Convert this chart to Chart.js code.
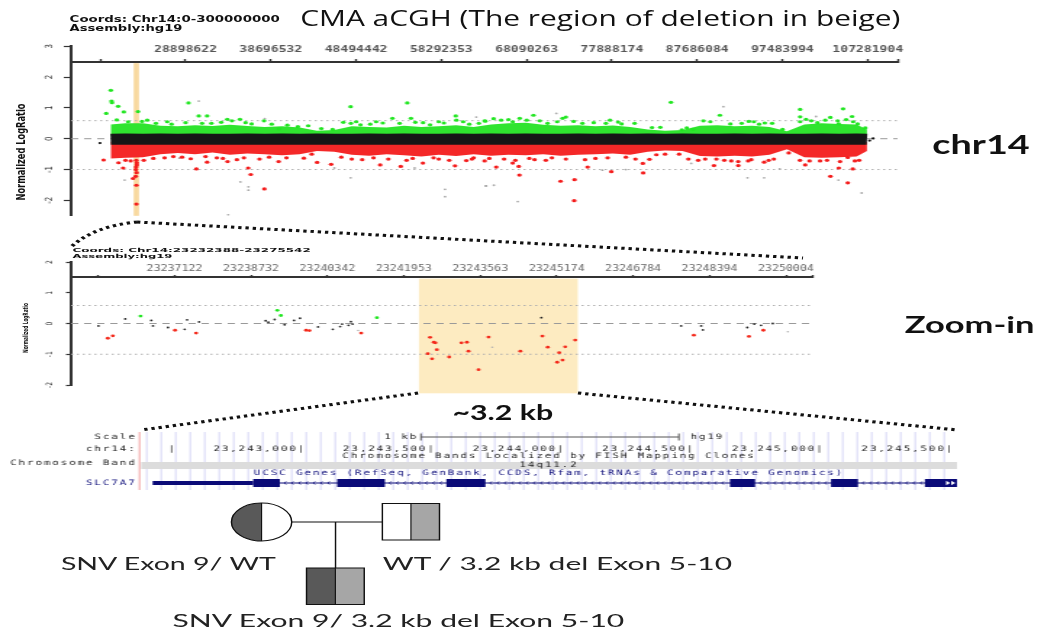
<!DOCTYPE html>
<html lang="en">
<head>
<meta charset="utf-8">
<title>CMA aCGH chr14</title>
<script src="https://cdn.jsdelivr.net/npm/chart.js@4.4.1/dist/chart.umd.min.js"></script>
<style>
html, body { margin: 0; padding: 0; background: #fff; }
body { width: 1046px; height: 637px; overflow: hidden; position: relative; }
#fig { position: absolute; left: 0; top: 0; width: 722px; height: 637px; transform: scaleX(1.45); transform-origin: 0 0; }
#fig canvas { position: absolute; }
.t { position: absolute; white-space: nowrap; transform-origin: 0 50%; }
</style>
</head>
<body>
<div id="fig">
	<canvas id="graficoTopo" width="625" height="190" style="left:0;top:36px"></canvas>
	<canvas id="graficoZoom" width="566" height="160" style="left:0;top:240px"></canvas>
	<canvas id="graficoUcsc" width="665" height="62" style="left:0;top:430px"></canvas>
	<svg width="722" height="637" style="position:absolute;left:0;top:0">
		<g stroke="#111" stroke-width="3" stroke-dasharray="2.3 2.7" fill="none">
			<path d="M49.7,246 Q65.5,226 94.5,222"/>
			<path d="M94.5,222 L553.8,258"/>
			<path d="M288.3,393 L97.2,430"/>
			<path d="M398.6,393 L660.7,430"/>
		</g>
		<!-- heredograma -->
		<g stroke="#111" stroke-width="1" fill="none">
			<line x1="201.2" y1="522" x2="263.7" y2="522"/>
			<line x1="231.4" y1="522" x2="231.4" y2="568"/>
		</g>
		<path d="M180.4,503 A20.8,19 0 0,0 180.4,541 Z" fill="#595959"/>
		<ellipse cx="180.4" cy="522" rx="20.8" ry="19" fill="none" stroke="#111" stroke-width="1"/>
		<line x1="180.4" y1="503" x2="180.4" y2="541" stroke="#111" stroke-width="0.8"/>
		<rect x="283.4" y="503.5" width="19.7" height="36.5" fill="#a6a6a6"/>
		<rect x="263.7" y="503.5" width="39.4" height="36.5" fill="none" stroke="#111" stroke-width="1"/>
		<line x1="283.4" y1="503.5" x2="283.4" y2="540" stroke="#111" stroke-width="0.8"/>
		<rect x="211.4" y="568" width="19.9" height="36.5" fill="#595959"/>
		<rect x="231.3" y="568" width="19.9" height="36.5" fill="#a6a6a6"/>
		<rect x="211.4" y="568" width="39.8" height="36.5" fill="none" stroke="#111" stroke-width="1"/>
		<line x1="231.3" y1="568" x2="231.3" y2="604.5" stroke="#111" stroke-width="0.8"/>
	</svg>
</div>
<script>
/* ---- Dados ---- */

/* painel chr14 (posições em Mb, log2 normalizado) */
var bandaMb = [20.3, 22, 24, 26, 28, 30, 32, 34, 36, 38, 40, 42, 44, 46, 48, 50, 52, 54, 56, 58, 60, 62, 64, 66, 68, 70, 72, 74, 76, 78, 80, 82, 84, 86, 88, 90, 92, 94, 96, 98, 100, 102, 104, 106, 107.2];
var verdeBorda = [0.46, 0.50, 0.50, 0.42, 0.40, 0.44, 0.41, 0.45, 0.41, 0.38, 0.40, 0.36, 0.26, 0.28, 0.40, 0.38, 0.36, 0.42, 0.38, 0.40, 0.44, 0.38, 0.46, 0.50, 0.52, 0.45, 0.42, 0.44, 0.40, 0.43, 0.38, 0.30, 0.26, 0.28, 0.42, 0.44, 0.40, 0.42, 0.38, 0.24, 0.46, 0.50, 0.48, 0.46, 0.30];
var vermelhoBorda = [-0.64, -0.62, -0.60, -0.50, -0.46, -0.50, -0.45, -0.52, -0.48, -0.50, -0.54, -0.50, -0.40, -0.42, -0.52, -0.55, -0.50, -0.54, -0.58, -0.52, -0.56, -0.50, -0.55, -0.52, -0.54, -0.50, -0.55, -0.52, -0.50, -0.48, -0.52, -0.42, -0.38, -0.40, -0.56, -0.58, -0.55, -0.58, -0.52, -0.34, -0.60, -0.62, -0.60, -0.58, -0.40];
var pretoMeio = [-0.02, -0.01, -0.02, -0.01, -0.02, -0.01, -0.02, -0.02, -0.01, -0.02, -0.01, -0.02, -0.01, -0.02, -0.02, -0.01, -0.02, -0.01, -0.02, -0.02, -0.01, -0.02, -0.01, -0.02, -0.01, -0.02, -0.02, -0.01, -0.02, -0.01, -0.02, -0.01, -0.02, -0.01, -0.02, -0.02, -0.01, -0.02, -0.01, -0.02, -0.02, -0.01, -0.02, -0.01, -0.02];

var pontosVerdes = [[20.32,1.57],[20.4,1.22],[20.45,1.17],[21.16,1.05],[21.81,0.87],[19.79,0.82],[21.0,0.61],[23.44,0.88],[23.9,0.56],[29.24,1.16],[30.42,0.74],[31.38,0.74],[31.87,0.5],[33.7,0.63],[34.23,0.58],[35.15,0.63],[37.92,0.58],[47.87,1.04],[54.38,1.16],[52.67,0.66],[54.8,0.66],[47.03,0.53],[47.9,0.5],[50.12,0.47],[51.56,0.51],[59.95,0.74],[60.02,0.6],[58.58,0.51],[63.34,0.57],[41.8,0.39],[39.64,0.32],[55.3,0.53],[84.67,1.18],[68.87,0.76],[68.1,0.6],[72.22,0.66],[72.6,0.7],[77.67,0.6],[63.27,0.58],[65.16,0.6],[85.92,0.29],[83.45,0.37],[90.3,0.76],[99.52,0.95],[104.45,0.97],[99.52,0.71],[100.2,0.63],[102.99,0.69],[105.48,0.72],[99.52,0.55],[103.83,0.58],[88.4,0.58],[93.62,0.56],[95.45,0.51],[103.95,0.48],[106.12,0.48],[25.5,0.5],[27.3,0.47],[36.5,0.48],[44.5,0.33],[45.8,0.3],[49,0.45],[57,0.45],[61.5,0.47],[66.5,0.55],[70.5,0.5],[74.5,0.5],[79,0.48],[82.5,0.36],[87.2,0.3],[91.5,0.48],[94.8,0.47],[97.5,0.3],[101.5,0.52],[107,0.35],
	[22.3,0.55],[24.5,0.6],[26.8,0.55],[28.9,0.52],[30.8,0.5],[33,0.53],[35.8,0.52],[38.8,0.47],[40.6,0.44],[43,0.42],[48.5,0.55],[50.8,0.55],[53.5,0.5],[56.2,0.52],[58,0.55],[60.8,0.55],[62.6,0.5],[64.3,0.65],[66,0.62],[67.3,0.66],[69.6,0.58],[71.6,0.55],[73.5,0.56],[75.8,0.52],[77.2,0.5],[78.6,0.54],[80.5,0.5],[86.5,0.35],[89.2,0.55],[92.8,0.5],[94.2,0.55],[96.3,0.5],[100.8,0.58],[102.4,0.6],[104.8,0.62],[105.6,0.55]];
var pontosVermelhos = [[19.49,-0.69],[21.73,-0.95],[22.87,-1.29],[23.18,-1.22],[23.26,-1.51],[23.26,-2.12],[23.3,-0.85],[23.2,-1.0],[23.25,-0.7],[23.3,-0.78],[23.22,-0.92],[23.28,-1.1],[22.6,-0.72],[24.1,-0.7],[21.2,-0.78],[30.15,-0.98],[31.38,-0.76],[36.4,-1.16],[36.1,-0.95],[37.96,-1.63],[33.73,-0.74],[53.63,-0.9],[51.26,-0.85],[59.87,-0.88],[56.18,-0.79],[44.02,-0.77],[45.62,-0.83],[42.5,-0.63],[39.6,-0.74],[61.16,-0.71],[63.27,-0.72],[73.56,-2.01],[73.6,-1.33],[71.99,-1.38],[67.27,-1.18],[64.6,-0.92],[77.82,-1.07],[81.48,-1.11],[75.1,-0.92],[81.44,-0.8],[86.68,-0.66],[82.2,-0.67],[67.19,-0.9],[66.5,-0.79],[104.99,-1.43],[103.0,-1.22],[103.96,-0.95],[105.56,-0.98],[100.1,-0.85],[89.62,-0.87],[92.41,-0.87],[95.38,-0.76],[93.55,-0.72],[104.99,-0.61],[92.4,-0.74],[26.5,-0.62],[28.5,-0.6],[32.5,-0.62],[34.8,-0.68],[38.5,-0.6],[48,-0.66],[50.5,-0.62],[55,-0.64],[58,-0.66],[62,-0.62],[65.5,-0.66],[69,-0.68],[71,-0.62],[76,-0.64],[79.5,-0.6],[84,-0.5],[88.6,-0.66],[90.8,-0.7],[96.5,-0.66],[99.5,-0.7],[101.8,-0.72],[106.3,-0.7],
	[22.0,-0.7],[25.2,-0.64],[27.5,-0.58],[29.5,-0.65],[31.2,-0.58],[33.2,-0.64],[35.6,-0.62],[37.4,-0.66],[40.5,-0.62],[43.4,-0.5],[46.8,-0.6],[49.2,-0.68],[52.2,-0.66],[54.3,-0.7],[57.4,-0.62],[59.2,-0.7],[61.8,-0.66],[63.8,-0.64],[66.8,-0.7],[68.4,-0.64],[70.3,-0.7],[72.6,-0.66],[74.8,-0.68],[77.4,-0.62],[80.6,-0.66],[83,-0.52],[85.6,-0.5],[87.8,-0.7],[89.9,-0.66],[91.6,-0.72],[93.9,-0.68],[95.9,-0.7],[98.2,-0.46],[100.6,-0.72],[102.6,-0.7],[104.1,-0.74],[105.8,-0.72]];
var pontosCinza = [[30.42,1.22],[21.9,-1.34],[36.13,-1.56],[36.13,-1.67],[35.2,-1.4],[33.8,-2.47],[28.2,-0.63],[47.87,-1.27],[58.72,-1.64],[58.72,-1.88],[63.38,-1.53],[55.22,-0.95],[63.45,-1.53],[64.33,-1.51],[67.07,-2.04],[76.8,-1.02],[87.0,-0.8],[90.7,1.04],[106.59,-1.76],[93.47,-1.27],[95.38,-1.27],[103.92,-1.34],[97.17,-0.98],[101.34,0.72],[38.0,0.65],[46.0,-0.95],[62.3,0.7],[79.5,-1.0],[71.5,0.82]];
var pontosPretos = [[19.07,-0.14],[107.5,-0.06],[107.9,0.01]];

var ticksTopo = [19100712, 28898622, 38696532, 48494442, 58292353, 68090263, 77888174, 87686084, 97483994, 107281904, 110710000];
var rotulosTopo = ['', '28898622', '38696532', '48494442', '58292353', '68090263', '77888174', '87686084', '97483994', '107281904', ''];
var ticksLog = [-2, -1, 0, 1, 2, 3];
var ticksLogZoom = [-2, -1, 0, 1, 2];
var limiares = [0.585, -1];
var delecaoTopoMb = [22.95, 23.55];

/* painel zoom-in (pb, log2) */
var zoomPretos = [[23235518,-0.08],[23236083,0.15],[23236632,0.10],[23236668,-0.08],[23236985,-0.13],[23237336,-0.19],[23237386,0.12],[23237640,0.05],[23239041,0.09],[23239098,0.04],[23239231,0.13],[23239442,-0.04],[23239639,0.10],[23239766,0.17],[23240146,-0.11],[23240456,-0.19],[23240611,-0.10],[23240653,-0.02],[23240788,-0.06],[23240837,0.06],[23240873,-0.02],[23244851,0.19],[23247795,-0.08],[23248217,-0.08],[23248253,-0.21],[23249189,-0.13],[23249337,-0.02],[23249479,-0.06],[23249726,0.0]];
var zoomVerdes = [[23236406,0.24],[23239288,0.43],[23239364,0.26],[23241386,0.19]];
var zoomVermelhos = [[23235717,-0.48],[23235823,-0.40],[23237133,-0.22],[23237576,-0.31],[23239892,-0.22],[23239964,-0.23],[23241054,-0.31],[23242457,-0.98],[23242506,-0.45],[23242548,-1.15],[23242584,-0.61],[23242618,-0.63],[23242648,-0.85],[23242908,-1.09],[23243167,-0.63],[23243281,-0.61],[23243315,-0.90],[23243527,-1.50],[23243738,-0.44],[23243958,-2.11],[23244408,-0.90],[23244873,-0.41],[23244985,-0.77],[23245183,-1.26],[23245226,-0.95],[23245296,-1.19],[23245353,-0.76],[23245564,-0.54],[23248063,-0.38],[23249225,-0.42],[23249527,-0.22]];
var zoomCinza = [[23240991,-0.23],[23243816,-0.77],[23250043,-0.27]];
var ticksZoom = [23235512, 23237122, 23238732, 23240342, 23241953, 23243563, 23245174, 23246784, 23248394, 23250004, 23250574];
var rotulosZoom = ['', '23237122', '23238732', '23240342', '23241953', '23243563', '23245174', '23246784', '23248394', '23250004', ''];
var delecaoZoom = [23242270, 23245618];

/* trilha UCSC (pb) */
var janelaUcsc = [23242383, 23245531];
var marcasCoord = [23242500, 23243000, 23243500, 23244000, 23244500, 23245000, 23245500];
var escala1kb = [23243463, 23244458];
var utr3 = [23242428, 23242816];
var exonInicio = [23242816, 23243140, 23243561, 23244655, 23245045, 23245407];
var exonFim = [23242919, 23243324, 23243712, 23244752, 23245149, 23245531];

/* ---- Layout ---- */
Chart.defaults.font.family = '"DejaVu Sans", sans-serif';
Chart.defaults.animation = false;

var Figura = Figura || {};

Figura.util = {
	pares: function(lista, k) {
		return lista.map(function(p) { return {x: p[0] * k, y: p[1]}; });
	},
	serie: function(xs, ys, k) {
		return xs.map(function(v, i) { return {x: v * k, y: ys[i]}; });
	},
	reta: function(v, a, b) {
		return [{x: a, y: v}, {x: b, y: v}];
	}
};

/* faixa bege da deleção, desenhada pelas escalas */
Figura.faixaBege = {
	id: 'faixaBege',
	beforeDatasetsDraw: function(chart, args, o) {
		var sx = chart.scales.x, sy = chart.scales.y, ctx = chart.ctx;
		var x0 = sx.getPixelForValue(o.inicio), x1 = sx.getPixelForValue(o.fim);
		var y0 = sy.getPixelForValue(o.topo), y1 = sy.getPixelForValue(o.base);
		ctx.save();
		ctx.fillStyle = o.cor;
		ctx.fillRect(x0, y0, x1 - x0, y1 - y0);
		ctx.restore();
	}
};

Figura.eixos = function(xmin, xmax, ymin, ymax, posY, ticksX, rotulosX, ticksY, tam) {
	return {
		x: {
			type: 'linear', position: {y: posY}, min: xmin, max: xmax,
			afterBuildTicks: function(s) { s.ticks = ticksX.map(function(v) { return {value: v}; }); },
			ticks: {
				autoSkip: false, maxRotation: 0, minRotation: 0, padding: tam.pad,
				font: {family: '"DejaVu Sans Mono", monospace', size: tam.fx, weight: tam.peso},
				color: tam.corX,
				callback: function(v, i) { return rotulosX[i]; }
			},
			grid: {drawOnChartArea: false, tickLength: tam.tlx, tickColor: '#333', tickWidth: 1.4},
			border: {color: '#333', width: 2}
		},
		y: {
			min: ymin, max: ymax,
			afterBuildTicks: function(s) { s.ticks = ticksY.map(function(v) { return {value: v}; }); },
			afterFit: function(s) { s.width = 49; },
			ticks: {minRotation: 90, maxRotation: 90, crossAlign: 'center', padding: tam.pady, font: {size: tam.fy}, color: '#333'},
			grid: {drawOnChartArea: false, tickLength: tam.tly, tickColor: '#333', tickWidth: 1.2},
			border: {color: '#333', width: 2}
		}
	};
};

Figura.linhasRef = function(a, b) {
	return [
		{type: 'line', data: Figura.util.reta(0, a, b), borderColor: '#9a9a9a', borderWidth: 1, borderDash: [5, 4], pointRadius: 0, order: 30},
		{type: 'line', data: Figura.util.reta(limiares[0], a, b), borderColor: '#b0b0b0', borderWidth: 1, borderDash: [1.5, 2.5], pointRadius: 0, order: 30},
		{type: 'line', data: Figura.util.reta(limiares[1], a, b), borderColor: '#b0b0b0', borderWidth: 1, borderDash: [1.5, 2.5], pointRadius: 0, order: 30}
	];
};

Figura.opcoesBase = function(padding, eixos, bege) {
	return {
		responsive: false, animation: false,
		layout: {padding: padding},
		plugins: {legend: {display: false}, tooltip: {enabled: false}, faixaBege: bege},
		scales: eixos
	};
};

/* grafico do cromossomo inteiro */
Figura.graficoTopo = function() {
	var u = Figura.util, xmin = 15750000, xmax = 110710000;
	var ds = Figura.linhasRef(xmin, xmax).concat([
		{type: 'line', data: u.serie(bandaMb, verdeBorda, 1e6), fill: {value: 0.1}, backgroundColor: '#2fe42f', borderWidth: 0, pointRadius: 0, order: 12},
		{type: 'line', data: u.serie(bandaMb, vermelhoBorda, 1e6), fill: {value: -0.1}, backgroundColor: '#f42828', borderWidth: 0, pointRadius: 0, order: 12},
		{type: 'line', data: u.serie(bandaMb, pretoMeio, 1e6), borderColor: '#161616', borderWidth: 11, pointRadius: 0, fill: false, order: 8},
		{data: u.pares(pontosCinza, 1e6), pointRadius: 0.9, backgroundColor: '#a8a8a8', borderWidth: 0, order: 6},
		{data: u.pares(pontosVerdes, 1e6), pointRadius: 1.6, backgroundColor: '#22e622', borderWidth: 0, order: 4},
		{data: u.pares(pontosVermelhos, 1e6), pointRadius: 1.6, backgroundColor: '#f41c1c', borderWidth: 0, order: 3},
		{data: u.pares(pontosPretos, 1e6), pointRadius: 1.1, backgroundColor: '#111', borderWidth: 0, order: 2}
	]);
	var eixos = Figura.eixos(xmin, xmax, -2.5, 3, 2.5, ticksTopo, rotulosTopo, ticksLog,
		{pad: -13, fx: 9, peso: 'bold', corX: '#555', tlx: -4, tly: 5, pady: 6, fy: 7});
	return new Chart(document.getElementById('graficoTopo'), {
		type: 'scatter',
		data: {datasets: ds},
		options: Figura.opcoesBase({left: 0, right: 6, top: 10, bottom: 7}, eixos,
			{inicio: delecaoTopoMb[0] * 1e6, fim: delecaoTopoMb[1] * 1e6, topo: 2.45, base: -2.5, cor: '#f8d9a0'}),
		plugins: [Figura.faixaBege]
	});
};

/* grafico zoom-in */
Figura.graficoZoom = function() {
	var u = Figura.util, xmin = 23234942, xmax = 23250574;
	var ds = Figura.linhasRef(xmin, xmax).concat([
		{data: u.pares(zoomCinza, 1), pointRadius: 0.8, backgroundColor: '#b0b0b0', borderWidth: 0, order: 6},
		{data: u.pares(zoomPretos, 1), pointRadius: 0.9, backgroundColor: '#222', borderWidth: 0, order: 5},
		{data: u.pares(zoomVerdes, 1), pointRadius: 1.4, backgroundColor: '#22e622', borderWidth: 0, order: 4},
		{data: u.pares(zoomVermelhos, 1), pointRadius: 1.4, backgroundColor: '#f42a1c', borderWidth: 0, order: 3}
	]);
	var eixos = Figura.eixos(xmin, xmax, -2, 2, 1.5, ticksZoom, rotulosZoom, ticksLogZoom,
		{pad: -10, fx: 8, peso: 'normal', corX: '#666', tlx: -3, tly: 3.5, pady: 8, fy: 6});
	return new Chart(document.getElementById('graficoZoom'), {
		type: 'scatter',
		data: {datasets: ds},
		options: Figura.opcoesBase({left: 0, right: 5.3, top: 22, bottom: 15}, eixos,
			{inicio: delecaoZoom[0], fim: delecaoZoom[1], topo: 1.46, base: -2.27, cor: '#fdebc1'}),
		plugins: [Figura.faixaBege]
	});
};

/* trilha do navegador UCSC */
Figura.linhas = {escala: 7, coord: 19, fish: 26, bandaTxt: 33, banda: 35.5, genesTxt: 43, gene: 53};
Figura.azul = '#0a0a78';

Figura.trilhaUcsc = {
	id: 'trilhaUcsc',
	beforeDatasetsDraw: function(chart) {
		var ctx = chart.ctx, a = chart.chartArea, sy = chart.scales.y;
		ctx.save();
		ctx.strokeStyle = '#cdcdf4';
		ctx.lineWidth = 0.8;
		for (var gx = a.left + 4; gx < a.right; gx += 10) {
			ctx.beginPath();
			ctx.moveTo(gx, sy.getPixelForValue(2));
			ctx.lineTo(gx, sy.getPixelForValue(60));
			ctx.stroke();
		}
		ctx.strokeStyle = '#f2a0a0';
		ctx.lineWidth = 1;
		ctx.beginPath();
		ctx.moveTo(a.left - 1, sy.getPixelForValue(2));
		ctx.lineTo(a.left - 1, sy.getPixelForValue(60));
		ctx.stroke();
		ctx.restore();
	},
	afterDatasetsDraw: function(chart) {
		var ctx = chart.ctx, a = chart.chartArea, sx = chart.scales.x, sy = chart.scales.y, L = Figura.linhas;
		var meio = (a.left + a.right) / 2;
		function py(v) { return sy.getPixelForValue(v); }
		ctx.save();
		ctx.font = '7.5px "DejaVu Sans Mono", monospace';
		ctx.letterSpacing = '1.3px';
		ctx.textBaseline = 'middle';
		ctx.fillStyle = '#222';
		ctx.textAlign = 'right';
		ctx.fillText('Scale', a.left - 3, py(L.escala));
		ctx.fillText('chr14:', a.left - 3, py(L.coord));
		ctx.fillText('Chromosome Band', a.left - 3, py(L.bandaTxt));
		ctx.fillStyle = Figura.azul;
		ctx.fillText('SLC7A7', a.left - 3, py(L.gene));

		/* barra de escala */
		var e0 = sx.getPixelForValue(escala1kb[0]), e1 = sx.getPixelForValue(escala1kb[1]);
		ctx.strokeStyle = '#555';
		ctx.lineWidth = 1;
		ctx.beginPath();
		ctx.moveTo(e0, py(L.escala)); ctx.lineTo(e1, py(L.escala));
		ctx.moveTo(e0, py(L.escala) - 3.5); ctx.lineTo(e0, py(L.escala) + 3.5);
		ctx.moveTo(e1, py(L.escala) - 3.5); ctx.lineTo(e1, py(L.escala) + 3.5);
		ctx.stroke();
		ctx.fillStyle = '#222';
		ctx.fillText('1 kb', e0 - 2, py(L.escala));
		ctx.textAlign = 'left';
		ctx.fillText('hg19', e1 + 8, py(L.escala));

		/* coordenadas */
		ctx.textAlign = 'right';
		marcasCoord.forEach(function(v, i) {
			var txt = (i === 0 ? '' : v.toLocaleString('en-US')) + '|';
			ctx.fillText(txt, sx.getPixelForValue(v) + 3.6, py(L.coord));
		});
		ctx.textAlign = 'center';
		ctx.fillText('Chromosome Bands Localized by FISH Mapping Clones', meio, py(L.fish));
		ctx.fillText('14q11.2', meio, py(L.banda));
		ctx.fillStyle = Figura.azul;
		ctx.fillText('UCSC Genes (RefSeq, GenBank, CCDS, Rfam, tRNAs & Comparative Genomics)', meio, py(L.genesTxt));

		/* setas do intron (fita -) */
		ctx.strokeStyle = Figura.azul;
		ctx.lineWidth = 0.7;
		var yg = py(L.gene);
		for (var i = 0; i < exonInicio.length - 1; i++) {
			var p0 = sx.getPixelForValue(exonFim[i]) + 3, p1 = sx.getPixelForValue(exonInicio[i + 1]) - 2;
			for (var p = p0; p < p1; p += 5) {
				ctx.beginPath();
				ctx.moveTo(p + 1.3, yg - 1.6); ctx.lineTo(p, yg); ctx.lineTo(p + 1.3, yg + 1.6);
				ctx.stroke();
			}
		}
		/* setas brancas no ultimo exon */
		var fimX = sx.getPixelForValue(exonFim[exonFim.length - 1]);
		ctx.fillStyle = '#fff';
		[fimX - 7.5, fimX - 4].forEach(function(q) {
			ctx.beginPath();
			ctx.moveTo(q, yg - 2.2); ctx.lineTo(q + 2.8, yg); ctx.lineTo(q, yg + 2.2);
			ctx.closePath(); ctx.fill();
		});
		ctx.restore();
	}
};

Figura.graficoUcsc = function() {
	var L = Figura.linhas, exons = [];
	exonInicio.forEach(function(s, i) {
		exons.push({x: s, y: L.gene}, {x: exonFim[i], y: L.gene}, {x: exonFim[i] + 1, y: null});
	});
	var ds = [
		{type: 'line', data: [{x: janelaUcsc[0], y: L.banda}, {x: janelaUcsc[1], y: L.banda}], borderColor: '#dcdcdc', borderWidth: 7, pointRadius: 0, order: 9},
		{type: 'line', data: [{x: utr3[1], y: L.gene}, {x: janelaUcsc[1], y: L.gene}], borderColor: Figura.azul, borderWidth: 1, pointRadius: 0, order: 5},
		{type: 'line', data: [{x: utr3[0], y: L.gene}, {x: utr3[1], y: L.gene}], borderColor: Figura.azul, borderWidth: 4, pointRadius: 0, order: 4},
		{type: 'line', data: exons, borderColor: Figura.azul, borderWidth: 8, pointRadius: 0, spanGaps: false, order: 3}
	];
	return new Chart(document.getElementById('graficoUcsc'), {
		type: 'scatter',
		data: {datasets: ds},
		options: {
			responsive: false, animation: false,
			layout: {padding: {left: 97.2, right: 5, top: 0, bottom: 0}},
			plugins: {legend: {display: false}, tooltip: {enabled: false}},
			scales: {
				x: {type: 'linear', display: false, min: janelaUcsc[0], max: janelaUcsc[1]},
				y: {type: 'linear', display: false, min: 0, max: 62, reverse: true}
			}
		},
		plugins: [Figura.trilhaUcsc]
	});
};

/* textos soltos da figura */
Figura.textos = [
	{t: 'CMA aCGH (The region of deletion in beige)', x: 206.9, y: 18, w: 414.5, f: '400 21px "Open Sans"'},
	{t: 'Coords: Chr14:0-300000000', x: 48.3, y: 20, w: 144.8, f: 'bold 8px "DejaVu Sans"'},
	{t: 'Assembly:hg19', x: 48.3, y: 28.5, w: 77.9, f: 'bold 8px "DejaVu Sans"'},
	{t: 'Normalized LogRatio', x: 15.2, y: 152, w: 97, f: 'bold 9px "DejaVu Sans Condensed", "DejaVu Sans"', rot: true},
	{t: 'chr14', x: 642.8, y: 143, w: 67.5, f: 'bold 27px Lato'},
	{t: 'Coords: Chr14:23232388-23275542', x: 49.7, y: 251, w: 164.8, f: 'bold 5.5px "DejaVu Sans"'},
	{t: 'Assembly:hg19', x: 49.7, y: 256.5, w: 68.3, f: 'bold 5.5px "DejaVu Sans"'},
	{t: 'Normalized LogRatio', x: 18, y: 328, w: 50, f: 'bold 5px "DejaVu Sans Condensed", "DejaVu Sans"', rot: true},
	{t: 'Zoom-in', x: 624, y: 325, w: 89.7, f: 'bold 22px Lato'},
	{t: '~3.2 kb', x: 311.7, y: 412, w: 69, f: 'bold 20px Lato'},
	{t: 'SNV Exon 9/ WT', x: 41.6, y: 563, w: 148, f: '17px Lato', c: '#222'},
	{t: 'WT / 3.2 kb del Exon 5-10', x: 263.7, y: 563, w: 240.6, f: '17px Lato', c: '#222'},
	{t: 'SNV Exon 9/ 3.2 kb del Exon 5-10', x: 119.4, y: 620, w: 311, f: '17px Lato', c: '#222'}
];

Figura.escreverTextos = function() {
	var fig = document.getElementById('fig');
	Figura.textos.forEach(function(s) {
		var d = document.createElement('div');
		d.className = 't';
		d.textContent = s.t;
		d.style.font = s.f;
		d.style.lineHeight = '1';
		d.style.color = s.c || '#111';
		d.style.left = s.x + 'px';
		d.style.top = s.y + 'px';
		fig.appendChild(d);
		var k = s.w / d.offsetWidth;
		if (s.rot) {
			d.style.transformOrigin = '50% 50%';
			d.style.transform = 'translate(-50%,-50%) rotate(-90deg) scaleX(' + k + ')';
		} else {
			d.style.transform = 'translateY(-50%) scaleX(' + k + ')';
		}
	});
};

Figura.graficoTopo();
Figura.graficoZoom();
Figura.graficoUcsc();
Figura.escreverTextos();
</script>
</body>
</html>
